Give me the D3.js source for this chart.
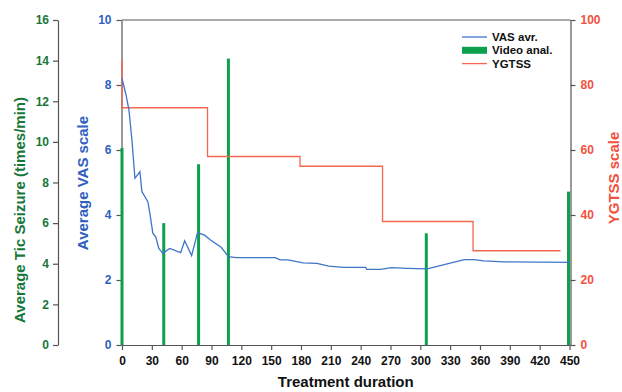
<!DOCTYPE html>
<html>
<head>
<meta charset="utf-8">
<script src="https://cdn.jsdelivr.net/npm/d3@7"></script>
<style>
  body { margin: 0; background: #fff; }
  text { font-family: "Liberation Sans", Arial, sans-serif; font-weight: bold; }
</style>
</head>
<body>
<script>
// VAS average (left inner axis, 0-10)
const vasDays = [0, 4, 7, 10, 13, 18, 20, 26, 28, 31, 34, 37, 41, 48, 59, 63, 70, 76, 83, 89,
  100, 107, 115, 154, 159, 167, 182, 196, 208, 223, 245, 246, 260, 271, 287, 307, 344, 354, 364, 384, 450];
const vasValues = [8.2, 7.7, 7.23, 6.3, 5.13, 5.33, 4.72, 4.41, 4.06, 3.44, 3.32, 2.97, 2.82, 2.97, 2.84, 3.21, 2.75, 3.46, 3.38, 3.23,
  3.0, 2.72, 2.69, 2.69, 2.62, 2.62, 2.53, 2.51, 2.43, 2.39, 2.39, 2.33, 2.33, 2.38, 2.36, 2.34, 2.63, 2.63, 2.59, 2.56, 2.54];

// Video analysis (tic seizures, left outer axis 0-16)
const videoDays = [0, 42, 77, 107, 306, 450];
const videoValues = [9.7, 6.0, 8.9, 14.1, 5.5, 7.55];

// YGTSS (right axis 0-100), step line
const ygtssDays = [0, 0, 86, 179, 262, 353, 441];
const ygtssValues = [88, 73, 58, 55, 38, 29, 29];

const xTicks = d3.range(0, 451, 30);

const W = 622, H = 392;
const mLeft = 122, mRight = 569.5, mTop = 20, mBottom = 345;

const cGreenText = "#17773a", cBlueText = "#2f60c0", cRedText = "#f2503e";
const cBlue = "#3f74c9", cGreen = "#0ca04c", cRed = "#f26652", cAxis = "#555";

const svg = d3.select("body").append("svg").attr("width", W).attr("height", H);

const x = d3.scaleLinear().domain([0, 450]).range([mLeft, mRight]);
const yVas = d3.scaleLinear().domain([0, 10]).range([mBottom, mTop]);
const yTic = d3.scaleLinear().domain([0, 16]).range([mBottom, mTop]);
const yYg = d3.scaleLinear().domain([0, 100]).range([mBottom, mTop]);

// frame top line
svg.append("line").attr("x1", mLeft - 0.5).attr("x2", mRight + 1).attr("y1", mTop).attr("y2", mTop)
  .attr("stroke", cAxis).attr("stroke-width", 1.2);

function styleAxis(g, color, size) {
  g.selectAll("path.domain").attr("stroke", cAxis).attr("stroke-width", 1.2);
  g.selectAll(".tick line").attr("stroke", cAxis).attr("stroke-width", 1.2);
  g.selectAll(".tick text").attr("fill", color).style("font-size", size + "px")
    .style("font-family", "'Liberation Sans', Arial, sans-serif").style("font-weight", "bold");
}

// x axis
const gx = svg.append("g").attr("transform", `translate(0,${mBottom})`)
  .call(d3.axisBottom(x).tickValues(xTicks).tickSize(5).tickSizeOuter(0).tickPadding(6));
styleAxis(gx, "#111", 12);

// green outer axis
const gTic = svg.append("g").attr("transform", "translate(58,0)")
  .call(d3.axisLeft(yTic).ticks(8).tickSize(5).tickSizeOuter(0).tickPadding(4));
styleAxis(gTic, cGreenText, 12);

// blue axis
const gVas = svg.append("g").attr("transform", `translate(${mLeft - 0.5},0)`)
  .call(d3.axisLeft(yVas).ticks(5).tickSize(5).tickSizeOuter(0).tickPadding(5));
styleAxis(gVas, cBlueText, 12);

// red axis
const gYg = svg.append("g").attr("transform", `translate(${mRight + 1},0)`)
  .call(d3.axisRight(yYg).ticks(5).tickSize(5).tickSizeOuter(0).tickPadding(5));
styleAxis(gYg, cRedText, 12);

// video bars
svg.append("g").selectAll("rect").data(videoDays).join("rect")
  .attr("x", d => Math.min(x(d) - 1.5, mRight - 2.5))
  .attr("width", 3)
  .attr("y", (d, i) => yTic(videoValues[i]))
  .attr("height", (d, i) => mBottom - yTic(videoValues[i]))
  .attr("fill", cGreen);

// YGTSS step line
svg.append("path")
  .datum(ygtssDays.map((d, i) => [d, ygtssValues[i]]))
  .attr("fill", "none").attr("stroke", cRed).attr("stroke-width", 1.3)
  .attr("d", d3.line().x(d => x(d[0])).y(d => yYg(d[1])).curve(d3.curveStepAfter));

// VAS line
svg.append("path")
  .datum(vasDays.map((d, i) => [d, vasValues[i]]))
  .attr("fill", "none").attr("stroke", cBlue).attr("stroke-width", 1.3)
  .attr("d", d3.line().x(d => x(d[0])).y(d => yVas(d[1])));

// axis titles
svg.append("text").attr("transform", "translate(25,210) rotate(-90)")
  .attr("text-anchor", "middle").attr("fill", cGreenText).style("font-size", "15px")
  .text("Average Tic Seizure (times/min)");
svg.append("text").attr("transform", "translate(88,183) rotate(-90)")
  .attr("text-anchor", "middle").attr("fill", cBlueText).style("font-size", "15px")
  .text("Average VAS scale");
svg.append("text").attr("transform", "translate(619,178) rotate(-90)")
  .attr("text-anchor", "middle").attr("fill", cRedText).style("font-size", "15px")
  .text("YGTSS scale");
svg.append("text").attr("x", (mLeft + mRight) / 2).attr("y", 387)
  .attr("text-anchor", "middle").attr("fill", "#111").style("font-size", "15px")
  .text("Treatment duration");

// legend
const legend = [
  { label: "VAS avr.", color: cBlue, type: "line" },
  { label: "Video anal.", color: cGreen, type: "bar" },
  { label: "YGTSS", color: cRed, type: "line" }
];
const lg = svg.append("g").attr("transform", "translate(462,37)");
legend.forEach((d, i) => {
  const yy = i * 13.3;
  if (d.type === "line") {
    lg.append("line").attr("x1", 0).attr("x2", 25).attr("y1", yy).attr("y2", yy)
      .attr("stroke", d.color).attr("stroke-width", 1.3);
  } else {
    lg.append("rect").attr("x", 0).attr("y", yy - 3.5).attr("width", 25).attr("height", 7)
      .attr("fill", d.color);
  }
  lg.append("text").attr("x", 30).attr("y", yy).attr("dy", "0.35em")
    .attr("fill", "#111").style("font-size", "11.5px").text(d.label);
});
</script>
</body>
</html>
